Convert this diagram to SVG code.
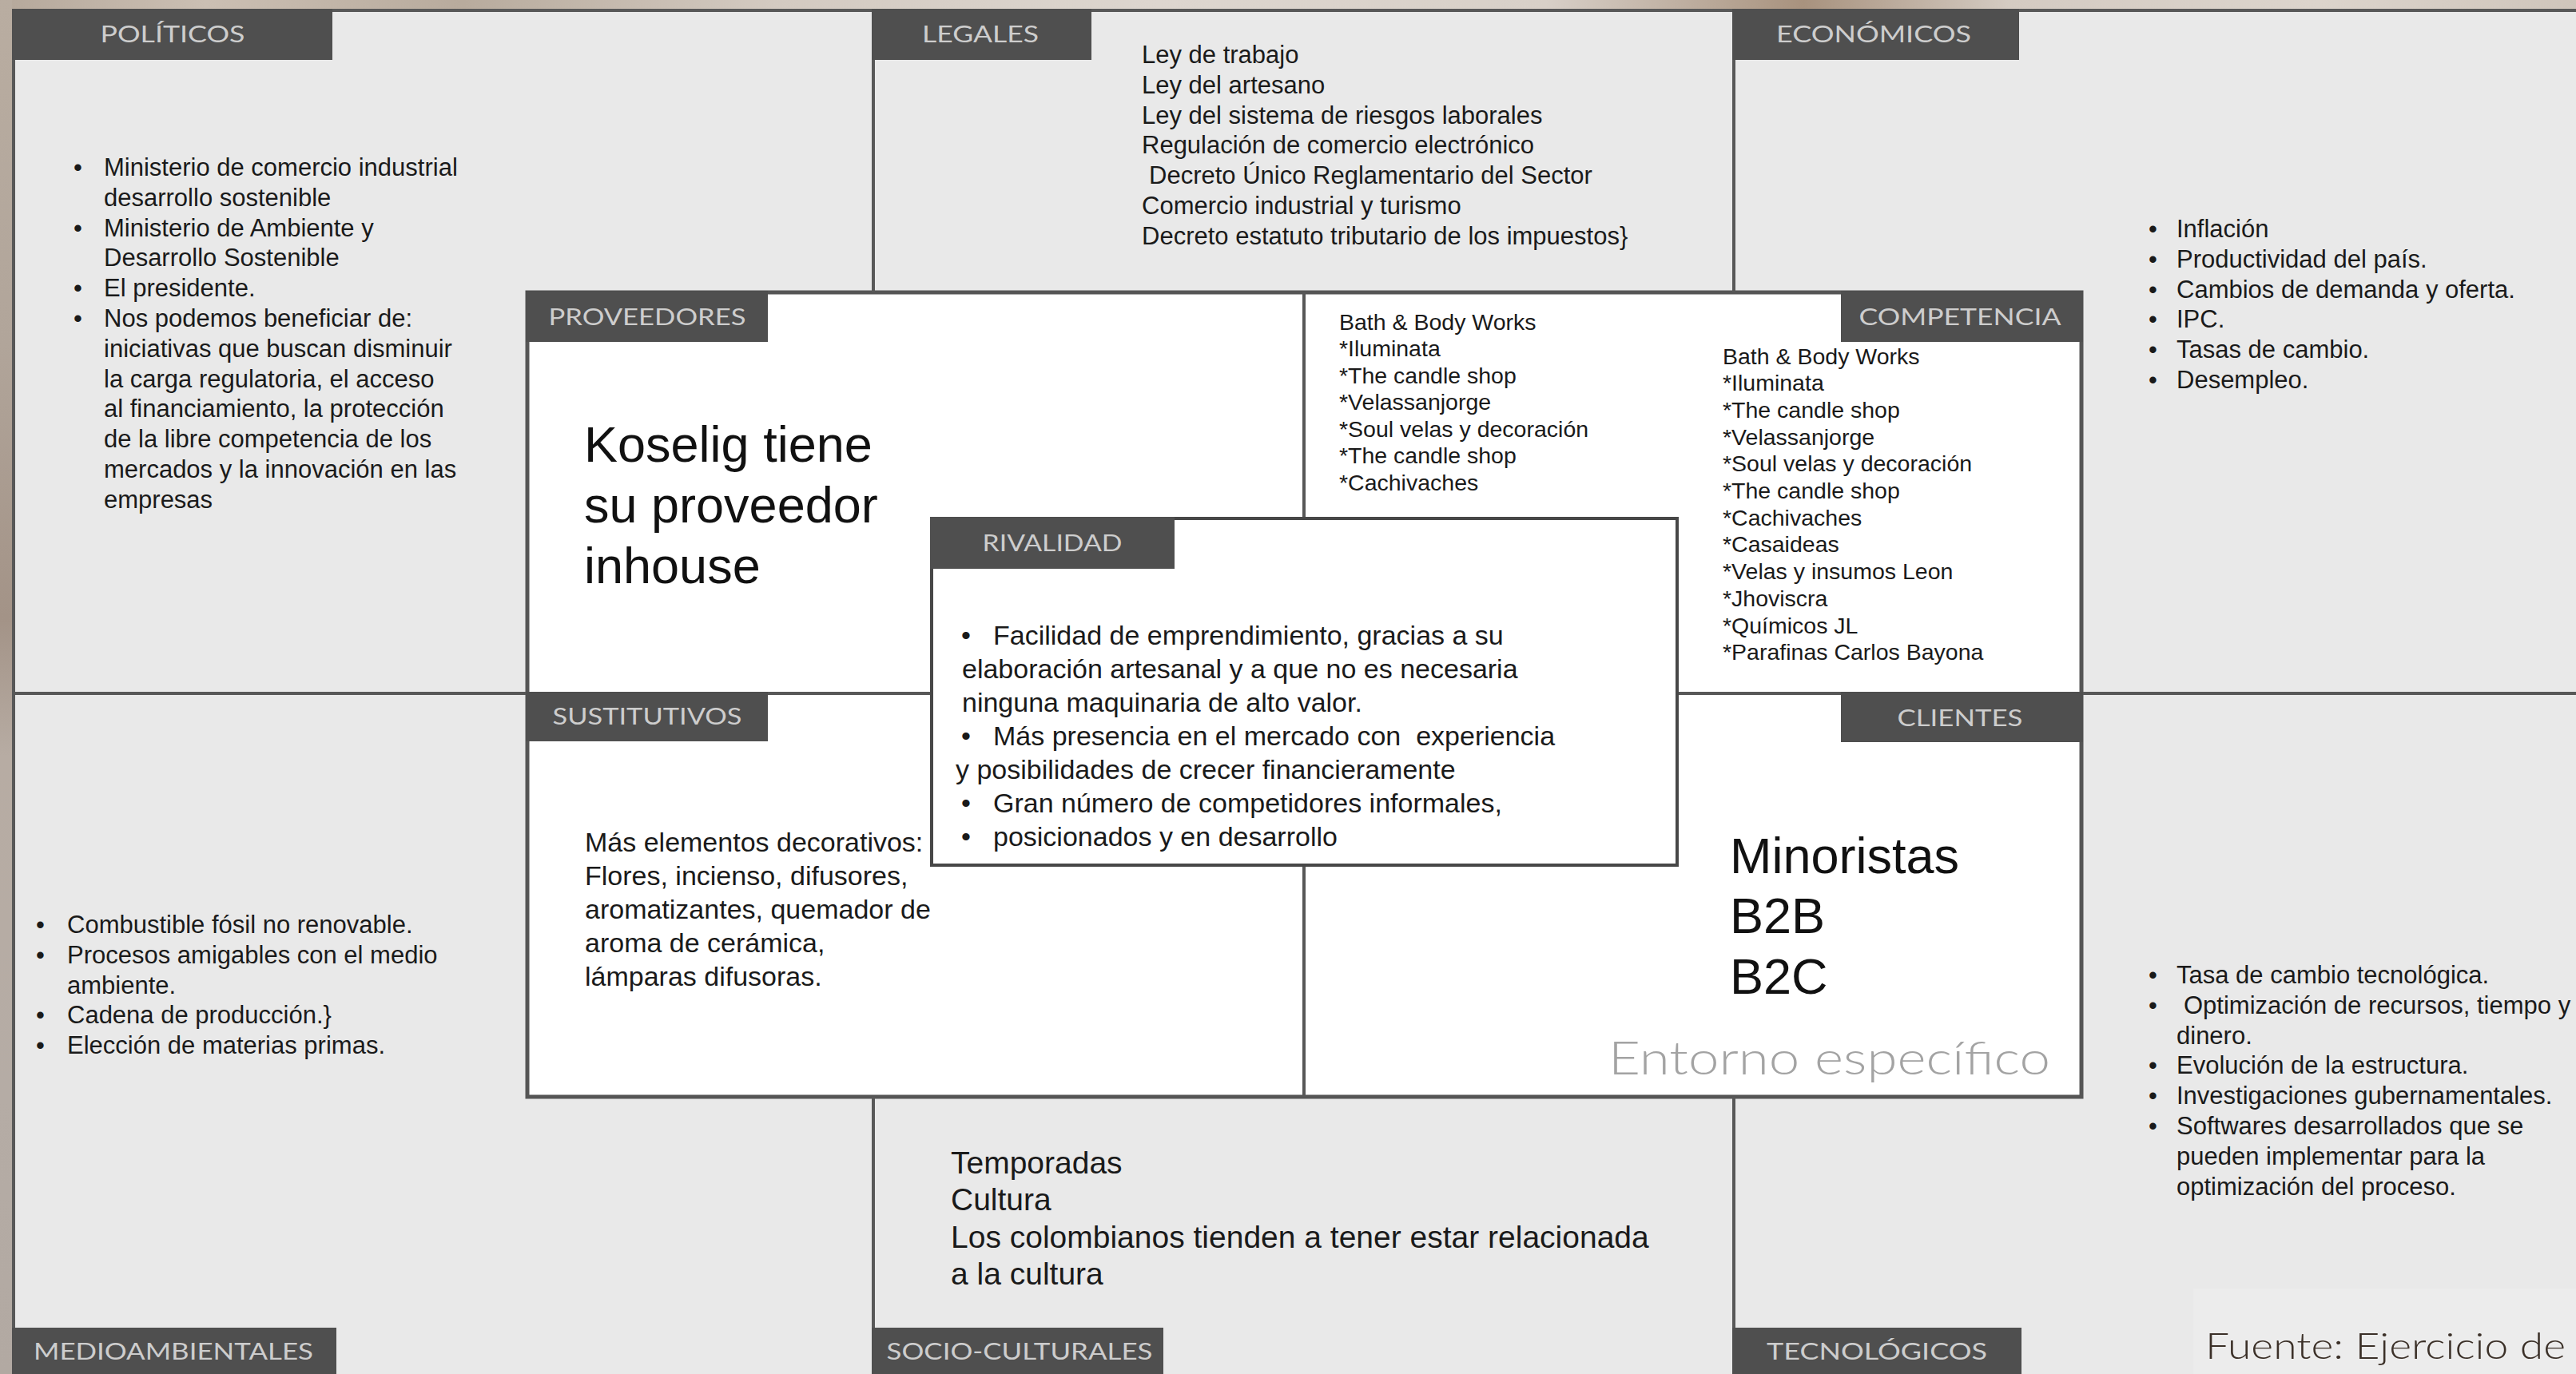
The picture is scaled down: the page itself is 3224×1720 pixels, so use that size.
<svg xmlns="http://www.w3.org/2000/svg" width="3224" height="1720" viewBox="0 0 3224 1720">
<defs>
<linearGradient id="topTex" x1="0" y1="0" x2="1" y2="0">
<stop offset="0" stop-color="#b5a89b"/>
<stop offset="0.08" stop-color="#cbbfb3"/>
<stop offset="0.18" stop-color="#b8ab9d"/>
<stop offset="0.3" stop-color="#d3cac1"/>
<stop offset="0.45" stop-color="#ddd6cf"/>
<stop offset="0.6" stop-color="#d8d0c8"/>
<stop offset="0.7" stop-color="#a8927e"/>
<stop offset="0.78" stop-color="#d4cbc2"/>
<stop offset="0.9" stop-color="#dcd4cc"/>
<stop offset="1" stop-color="#cfc5bb"/>
</linearGradient>
<linearGradient id="leftTex" x1="0" y1="0" x2="0" y2="1">
<stop offset="0" stop-color="#b9ada1"/>
<stop offset="0.25" stop-color="#b1a59a"/>
<stop offset="0.45" stop-color="#a39387"/>
<stop offset="0.55" stop-color="#b7aca3"/>
<stop offset="0.8" stop-color="#b5aca5"/>
<stop offset="1" stop-color="#b2a9a2"/>
</linearGradient>
<style>
.tab{fill:#4f4f4f}
.tabt{font-family:Lato,"Open Sans","Liberation Sans",sans-serif;font-size:29px;fill:#cdcdcd;text-anchor:middle}
.ln{stroke:#585858;stroke-width:4;fill:none}
.b{font-family:"Liberation Sans",Arial,sans-serif;font-size:31px;fill:#1a1a1a}
.c{font-family:"Liberation Sans",Arial,sans-serif;font-size:28.5px;fill:#1a1a1a}
.m{font-family:"Liberation Sans",Arial,sans-serif;font-size:34px;fill:#1a1a1a}
.s{font-family:"Liberation Sans",Arial,sans-serif;font-size:39px;fill:#1a1a1a}
.big{font-family:"Liberation Sans",Arial,sans-serif;font-size:63px;fill:#111}
</style>
</defs>
<rect x="0" y="0" width="3224" height="1720" fill="#e9e9e9"/>
<rect x="0" y="0" width="3224" height="12" fill="url(#topTex)"/>
<rect x="0" y="0" width="15" height="1720" fill="url(#leftTex)"/>
<rect x="2745" y="1613" width="479" height="107" fill="#ececec"/>
<rect id="center-box" x="660" y="366" width="1945" height="1007" fill="#ffffff" stroke="#555555" stroke-width="5"/>
<g id="connectors">
<line class="ln" x1="15" y1="13" x2="3224" y2="13"/>
<line class="ln" x1="17" y1="11" x2="17" y2="1720"/>
<line class="ln" x1="17" y1="868" x2="660" y2="868"/>
<line class="ln" x1="2605" y1="868" x2="3224" y2="868"/>
<line class="ln" x1="1093" y1="13" x2="1093" y2="366"/>
<line class="ln" x1="1093" y1="1373" x2="1093" y2="1720"/>
<line class="ln" x1="2170" y1="13" x2="2170" y2="366"/>
<line class="ln" x1="2170" y1="1373" x2="2170" y2="1720"/>
<line class="ln" x1="1632" y1="366" x2="1632" y2="649"/>
<line class="ln" x1="1632" y1="1083" x2="1632" y2="1373"/>
<line class="ln" x1="660" y1="868" x2="1166" y2="868"/>
<line class="ln" x1="2099" y1="868" x2="2605" y2="868"/>
</g>
<g id="politicos">
<rect class="tab" x="15" y="11" width="401" height="64"/>
<text class="tabt" x="216" y="53" textLength="181" lengthAdjust="spacingAndGlyphs">POLÍTICOS</text>
<text class="b">
<tspan x="92" y="220">•</tspan><tspan x="130" y="220">Ministerio de comercio industrial</tspan>
<tspan x="130" y="257.8">desarrollo sostenible</tspan>
<tspan x="92" y="295.6">•</tspan><tspan x="130" y="295.6">Ministerio de Ambiente y</tspan>
<tspan x="130" y="333.4">Desarrollo Sostenible</tspan>
<tspan x="92" y="371.2">•</tspan><tspan x="130" y="371.2">El presidente.</tspan>
<tspan x="92" y="409">•</tspan><tspan x="130" y="409">Nos podemos beneficiar de:</tspan>
<tspan x="130" y="446.8">iniciativas que buscan disminuir</tspan>
<tspan x="130" y="484.6">la carga regulatoria, el acceso</tspan>
<tspan x="130" y="522.4">al financiamiento, la protección</tspan>
<tspan x="130" y="560.2">de la libre competencia de los</tspan>
<tspan x="130" y="598">mercados y la innovación en las</tspan>
<tspan x="130" y="635.8">empresas</tspan>
</text>
</g>
<g id="legales">
<rect class="tab" x="1091" y="11" width="275" height="64"/>
<text class="tabt" x="1227" y="53" textLength="146" lengthAdjust="spacingAndGlyphs">LEGALES</text>
<text class="b">
<tspan x="1429" y="79">Ley de trabajo</tspan>
<tspan x="1429" y="116.8">Ley del artesano</tspan>
<tspan x="1429" y="154.6">Ley del sistema de riesgos laborales</tspan>
<tspan x="1429" y="192.4">Regulación de comercio electrónico</tspan>
<tspan x="1438" y="230.2">Decreto Único Reglamentario del Sector</tspan>
<tspan x="1429" y="268">Comercio industrial y turismo</tspan>
<tspan x="1429" y="305.8">Decreto estatuto tributario de los impuestos}</tspan>
</text>
</g>
<g id="economicos">
<rect class="tab" x="2168" y="11" width="359" height="64"/>
<text class="tabt" x="2345" y="53" textLength="244" lengthAdjust="spacingAndGlyphs">ECONÓMICOS</text>
<text class="b">
<tspan x="2689" y="297">•</tspan><tspan x="2724" y="297">Inflación</tspan>
<tspan x="2689" y="334.8">•</tspan><tspan x="2724" y="334.8">Productividad del país.</tspan>
<tspan x="2689" y="372.6">•</tspan><tspan x="2724" y="372.6">Cambios de demanda y oferta.</tspan>
<tspan x="2689" y="410.4">•</tspan><tspan x="2724" y="410.4">IPC.</tspan>
<tspan x="2689" y="448.2">•</tspan><tspan x="2724" y="448.2">Tasas de cambio.</tspan>
<tspan x="2689" y="486">•</tspan><tspan x="2724" y="486">Desempleo.</tspan>
</text>
</g>
<g id="proveedores">
<rect class="tab" x="658" y="364" width="303" height="64"/>
<text class="tabt" x="810" y="407" textLength="247" lengthAdjust="spacingAndGlyphs">PROVEEDORES</text>
<text class="big">
<tspan x="731" y="578">Koselig tiene</tspan>
<tspan x="731" y="654">su proveedor</tspan>
<tspan x="731" y="730">inhouse</tspan>
</text>
</g>
<g id="competencia">
<rect class="tab" x="2304" y="364" width="303" height="64"/>
<text class="tabt" x="2453" y="407" textLength="253" lengthAdjust="spacingAndGlyphs">COMPETENCIA</text>
<text class="c">
<tspan x="1676" y="412.5">Bath &amp; Body Works</tspan>
<tspan x="1676" y="446">*Iluminata</tspan>
<tspan x="1676" y="479.5">*The candle shop</tspan>
<tspan x="1676" y="513">*Velassanjorge</tspan>
<tspan x="1676" y="546.5">*Soul velas y decoración</tspan>
<tspan x="1676" y="580">*The candle shop</tspan>
<tspan x="1676" y="613.5">*Cachivaches</tspan>
</text>
<text class="c">
<tspan x="2156" y="455.5">Bath &amp; Body Works</tspan>
<tspan x="2156" y="489.2">*Iluminata</tspan>
<tspan x="2156" y="522.9">*The candle shop</tspan>
<tspan x="2156" y="556.6">*Velassanjorge</tspan>
<tspan x="2156" y="590.3">*Soul velas y decoración</tspan>
<tspan x="2156" y="624">*The candle shop</tspan>
<tspan x="2156" y="657.7">*Cachivaches</tspan>
<tspan x="2156" y="691.4">*Casaideas</tspan>
<tspan x="2156" y="725.1">*Velas y insumos Leon</tspan>
<tspan x="2156" y="758.8">*Jhoviscra</tspan>
<tspan x="2156" y="792.5">*Químicos JL</tspan>
<tspan x="2156" y="826.2">*Parafinas Carlos Bayona</tspan>
</text>
</g>
<g id="sustitutivos">
<rect class="tab" x="658" y="866" width="303" height="62"/>
<text class="tabt" x="810" y="907" textLength="237" lengthAdjust="spacingAndGlyphs">SUSTITUTIVOS</text>
<text class="m">
<tspan x="732" y="1066">Más elementos decorativos:</tspan>
<tspan x="732" y="1108">Flores, incienso, difusores,</tspan>
<tspan x="732" y="1150">aromatizantes, quemador de</tspan>
<tspan x="732" y="1192">aroma de cerámica,</tspan>
<tspan x="732" y="1234">lámparas difusoras.</tspan>
</text>
</g>
<g id="clientes">
<rect class="tab" x="2304" y="866" width="303" height="63"/>
<text class="tabt" x="2453" y="909" textLength="157" lengthAdjust="spacingAndGlyphs">CLIENTES</text>
<text class="big">
<tspan x="2165" y="1093">Minoristas</tspan>
<tspan x="2165" y="1168">B2B</tspan>
<tspan x="2165" y="1244">B2C</tspan>
</text>
<text x="2013" y="1345" font-family="Lato,'Open Sans',sans-serif" font-weight="300" font-size="57" fill="#a3a3a3" textLength="553" lengthAdjust="spacingAndGlyphs">Entorno específico</text>
</g>
<g id="rivalidad">
<rect x="1166" y="649" width="933" height="434" fill="#ffffff" stroke="#474747" stroke-width="4"/>
<rect class="tab" x="1164" y="647" width="306" height="65"/>
<text class="tabt" x="1317" y="690" textLength="175" lengthAdjust="spacingAndGlyphs">RIVALIDAD</text>
<text class="m">
<tspan x="1203" y="807">•</tspan><tspan x="1243" y="807">Facilidad de emprendimiento, gracias a su</tspan>
<tspan x="1204" y="849">elaboración artesanal y a que no es necesaria</tspan>
<tspan x="1204" y="891">ninguna maquinaria de alto valor.</tspan>
<tspan x="1203" y="933">•</tspan><tspan x="1243" y="933">Más presencia en el mercado con&#160; experiencia</tspan>
<tspan x="1196" y="975">y posibilidades de crecer financieramente</tspan>
<tspan x="1203" y="1017">•</tspan><tspan x="1243" y="1017">Gran número de competidores informales,</tspan>
<tspan x="1203" y="1059">•</tspan><tspan x="1243" y="1059">posicionados y en desarrollo</tspan>
</text>
</g>
<g id="medioambientales">
<rect class="tab" x="15" y="1662" width="406" height="58"/>
<text class="tabt" x="217" y="1702" textLength="350" lengthAdjust="spacingAndGlyphs">MEDIOAMBIENTALES</text>
<text class="b">
<tspan x="45" y="1168">•</tspan><tspan x="84" y="1168">Combustible fósil no renovable.</tspan>
<tspan x="45" y="1205.8">•</tspan><tspan x="84" y="1205.8">Procesos amigables con el medio</tspan>
<tspan x="84" y="1243.6">ambiente.</tspan>
<tspan x="45" y="1281.4">•</tspan><tspan x="84" y="1281.4">Cadena de producción.}</tspan>
<tspan x="45" y="1319.2">•</tspan><tspan x="84" y="1319.2">Elección de materias primas.</tspan>
</text>
</g>
<g id="socioculturales">
<rect class="tab" x="1091" y="1662" width="365" height="58"/>
<text class="tabt" x="1276" y="1702" textLength="333" lengthAdjust="spacingAndGlyphs">SOCIO-CULTURALES</text>
<text class="s">
<tspan x="1190" y="1469">Temporadas</tspan>
<tspan x="1190" y="1515.3">Cultura</tspan>
<tspan x="1190" y="1561.6">Los colombianos tienden a tener estar relacionada</tspan>
<tspan x="1190" y="1607.9">a la cultura</tspan>
</text>
</g>
<g id="tecnologicos">
<rect class="tab" x="2168" y="1662" width="362" height="58"/>
<text class="tabt" x="2349" y="1702" textLength="276" lengthAdjust="spacingAndGlyphs">TECNOLÓGICOS</text>
<text class="b">
<tspan x="2689" y="1231">•</tspan><tspan x="2724" y="1231">Tasa de cambio tecnológica.</tspan>
<tspan x="2689" y="1268.8">•</tspan><tspan x="2733" y="1268.8">Optimización de recursos, tiempo y</tspan>
<tspan x="2724" y="1306.6">dinero.</tspan>
<tspan x="2689" y="1344.4">•</tspan><tspan x="2724" y="1344.4">Evolución de la estructura.</tspan>
<tspan x="2689" y="1382.2">•</tspan><tspan x="2724" y="1382.2">Investigaciones gubernamentales.</tspan>
<tspan x="2689" y="1420">•</tspan><tspan x="2724" y="1420">Softwares desarrollados que se</tspan>
<tspan x="2724" y="1457.8">pueden implementar para la</tspan>
<tspan x="2724" y="1495.6">optimización del proceso.</tspan>
</text>
</g>
<g id="fuente">
<text x="2760" y="1701" font-family="Lato,'Open Sans',sans-serif" font-weight="300" font-size="46" fill="#3b3028" textLength="451" lengthAdjust="spacingAndGlyphs">Fuente: Ejercicio de</text>
</g>
</svg>
